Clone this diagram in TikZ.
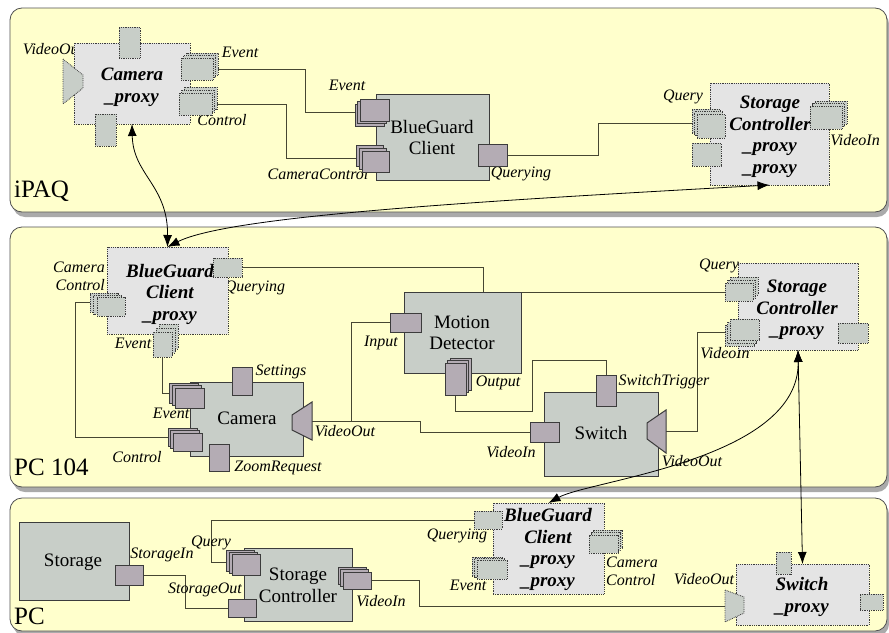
\documentclass[tikz,border=0pt]{standalone}
\usepackage{fontspec}
\setmainfont{Liberation Serif}
\usetikzlibrary{fit,arrows.meta}
\pgfdeclarelayer{lanes}
\pgfdeclarelayer{wires}
\pgfsetlayers{lanes,wires,main}
\definecolor{lanefill}{RGB}{255,255,204}
\definecolor{laneline}{RGB}{80,80,80}
\definecolor{shadowc}{RGB}{170,170,170}
\definecolor{compfill}{RGB}{200,206,200}
\definecolor{portfill}{RGB}{180,172,180}
\definecolor{proxyfill}{RGB}{228,228,228}
\definecolor{pportfill}{RGB}{200,206,200}
\definecolor{edgec}{RGB}{60,60,60}
\definecolor{wirec}{RGB}{70,70,50}
\newcommand{\compfont}{\fontsize{19}{21.5}\selectfont}
\newcommand{\proxyfont}{\fontsize{19}{21.5}\selectfont\bfseries\itshape}
\newcommand{\lblfont}{\fontsize{16}{18}\selectfont\itshape}
\newcommand{\lanefont}{\fontsize{25}{28}\selectfont}
\newcommand{\mkrect}[6][]{\node[box0,fit={(#3,#4)(#5,#6)},#1] (#2) {};}
\newcommand{\mkstack}[8][]{%
  \node[box0,fit={({#3+2*(#7)},{#4+2*(#8)})({#5+2*(#7)},{#6+2*(#8)})},#1] (#2b) {};
  \node[box0,fit={({#3+(#7)},{#4+(#8)})({#5+(#7)},{#6+(#8)})},#1] (#2a) {};
  \node[box0,fit={(#3,#4)(#5,#6)},#1] (#2) {};}
\tikzset{
  box0/.style={inner sep=0pt, outer sep=0pt, rectangle},
  comp/.style={box0, draw=edgec, fill=compfill, line width=0.9pt},
  proxy/.style={box0, draw=edgec, fill=proxyfill, densely dotted, line width=0.8pt},
  ctext/.style={inner sep=0pt, font=\compfont, align=center},
  ptext/.style={inner sep=0pt, font=\proxyfont, align=center},
  sportlook/.style={draw=edgec, fill=portfill, line width=1pt},
  pportlook/.style={draw=edgec, fill=pportfill, densely dotted, line width=0.8pt},
  sport/.style={box0, sportlook},
  pport/.style={box0, pportlook},
  lbl/.style={inner sep=0pt, font=\lblfont},
  lanelbl/.style={inner sep=0pt, font=\lanefont, anchor=west},
  wire/.style={draw=wirec, line width=0.8pt},
  xarrow/.style={draw=black, line width=0.8pt, {Latex[length=12pt,width=9pt]}-{Latex[length=12pt,width=9pt]}},
  lane/.style={draw=laneline, fill=lanefill, rounded corners=12pt, line width=0.8pt},
  laneshadow/.style={fill=shadowc, rounded corners=12pt}
}
\begin{document}
\begin{tikzpicture}[x=1pt,y=-1pt]
\useasboundingbox (0,0) rectangle (889,632);
\begin{pgfonlayer}{lanes}
  \fill[white] (0,0) rectangle (889,632);
  \fill[laneshadow] (13,12) rectangle (889,217);
  \draw[lane] (10,8) rectangle (887,212);
  \fill[laneshadow] (13,231) rectangle (889,492);
  \draw[lane] (10,227) rectangle (887,487);
  \fill[laneshadow] (13,502) rectangle (889,636);
  \draw[lane] (10,498) rectangle (887,631);
\end{pgfonlayer}

% ---------------- iPAQ ----------------
\node[lanelbl] (lIpaq) at (14,191) {iPAQ};
\node[lbl] (lCpVO) at (53,49) {VideoOut};
\node[lbl] (lCpEv) at (240,52) {Event};
\node[lbl] (lCpCt) at (222,120) {Control};
\node[proxy, fit={(74,43)(190,124)}] (cp) {};
\node[ptext] (cpT) at (132,87.5) {Camera\\\_proxy};
\mkrect[pport]{cpTop}{119}{27}{140}{58}
\mkrect[pport]{cpBot}{95}{114}{116}{146}
\draw[pportlook] (63,59) -- (83,75) -- (83,88) -- (63,104) -- cycle;
\coordinate (cpVO) at (63,81);
\mkstack[pport]{cpEv}{181}{58}{213}{80}{2.5}{-2.5}
\mkstack[pport]{cpCt}{179}{93}{212}{115}{2.5}{-3}

\node[lbl] (lBgEv) at (347,85) {Event};
\node[lbl] (lBgCC) at (318,174) {CameraControl};
\node[lbl] (lBgQ) at (521,174) {Querying};
\node[comp, fit={(376,94)(489,180)}] (bg) {};
\node[ctext] (bgT) at (432,137.5) {BlueGuard\\Client};
\mkstack[sport]{bgEv}{360}{99}{389}{121}{-2.5}{2.5}
\mkstack[sport]{bgCC}{362}{151}{389}{172}{-3}{-3}
\mkrect[sport]{bgQ}{478}{144}{507}{166}

\node[lbl] (lScppQ) at (683,97) {Query};
\node[lbl] (lScppVI) at (855,140) {VideoIn};
\node[proxy, fit={(710,83)(829,185)}] (scpp) {};
\node[ptext] (scppT) at (770,137) {Storage\\Controller\\\_proxy\\\_proxy};
\mkstack[pport]{scppQ}{697}{114}{725}{138}{-2.5}{-2.5}
\mkrect[pport]{scppL}{692}{143}{721}{166}
\mkstack[pport]{scppVI}{810}{106}{842}{129}{2.5}{-2.5}

% ---------------- PC 104 ----------------
\node[lanelbl] (lPc104) at (14,467) {PC 104};
\node[lbl, align=right, anchor=east] (lBgpCC) at (105,276) {Camera\\Control};
\node[lbl] (lBgpQ) at (255,288) {Querying};
\node[lbl] (lBgpEv) at (133,343) {Event};
\node[proxy, fit={(107,247)(228,334)}] (bgp) {};
\node[ptext] (bgpT) at (170,294) {BlueGuard\\Client\\\_proxy};
\mkrect[pport]{bgpQ}{213}{258}{242}{277}
\mkstack[pport]{bgpCC}{97}{297}{125}{316}{-3.5}{-2}
\mkstack[pport]{bgpEv}{153}{332}{172}{357}{3}{-4}

\node[lbl] (lCamSet) at (281,372) {Settings};
\node[lbl] (lCamEv) at (171,413) {Event};
\node[lbl] (lCamCt) at (137,457) {Control};
\node[lbl] (lCamZR) at (278,468) {ZoomRequest};
\node[lbl] (lCamVO) at (345,431) {VideoOut};
\node[comp, fit={(190,382)(303,456)}] (cam) {};
\node[ctext] (camT) at (247,418.5) {Camera};
\mkrect[sport]{camSet}{232}{367}{252}{395}
\mkstack[sport]{camEv}{175}{388}{204}{408}{-3}{-2.5}
\mkstack[sport]{camCt}{173}{433}{202}{451}{-2.5}{-2.5}
\mkrect[sport]{camZR}{209}{444}{229}{471}
\draw[sportlook] (292,415) -- (312,402) -- (312,440) -- (292,430) -- cycle;
\coordinate (camVO) at (312,421);

\node[lbl] (lMdIn) at (381,343) {Input};
\node[lbl] (lMdOut) at (498,383) {Output};
\node[comp, fit={(404,292)(521,373)}] (md) {};
\node[ctext] (mdT) at (462,333) {Motion\\Detector};
\mkrect[sport]{mdIn}{390}{313}{421}{332}
\mkstack[sport]{mdOut}{445}{363}{466}{395}{2.5}{-2.5}

\node[lbl] (lSwST) at (664,382) {SwitchTrigger};
\node[lbl] (lSwVI) at (511,452) {VideoIn};
\node[lbl] (lSwVO) at (692,461) {VideoOut};
\node[comp, fit={(544,392)(658,476)}] (sw) {};
\node[ctext] (swT) at (601,432.5) {Switch};
\mkrect[sport]{swST}{596}{375}{616}{406}
\mkrect[sport]{swVI}{530}{422}{559}{442}
\draw[sportlook] (647,423) -- (666,410) -- (666,453) -- (647,439) -- cycle;
\coordinate (swVO) at (666,431.5);

\node[lbl] (lScpQ) at (719,266) {Query};
\node[lbl] (lScpVI) at (725,353) {VideoIn};
\node[proxy, fit={(738,263)(858,350)}] (scp) {};
\node[ptext] (scpT) at (797,310) {Storage\\Controller\\\_proxy};
\mkstack[pport]{scpQ}{725}{283}{753}{301}{2.5}{-3}
\mkstack[pport]{scpVI}{730}{319}{759}{340}{-2.5}{3}
\mkrect[pport]{scpR}{838}{323}{868}{343}

% ---------------- PC ----------------
\node[lanelbl] (lPc) at (14,616) {PC};
\node[lbl] (lStIn) at (162,555) {StorageIn};
\node[comp, fit={(19,522)(129,600)}] (st) {};
\node[ctext] (stT) at (73,562.5) {Storage};
\mkrect[sport]{stIn}{115}{565}{143}{585}

\node[lbl] (lScQ) at (211,543) {Query};
\node[lbl] (lScSO) at (205,590) {StorageOut};
\node[lbl] (lScVI) at (381,601) {VideoIn};
\node[comp, fit={(244,548)(352,621)}] (sc) {};
\node[ctext] (scT) at (298,585.5) {Storage\\Controller};
\mkstack[sport]{scQ}{232}{554}{260}{575}{-3}{-2}
\mkrect[sport]{scSO}{228}{599}{256}{617}
\mkstack[sport]{scVI}{343}{572}{371}{589}{-2.5}{-2.5}

\node[lbl] (lBgppQ) at (457,536) {Querying};
\node[lbl, align=left, anchor=west] (lBgppCC) at (606,571) {Camera\\Control};
\node[lbl] (lBgppEv) at (468,585) {Event};
\node[proxy, fit={(493,503)(604,594)}] (bgpp) {};
\node[ptext] (bgppT) at (548,549.5) {BlueGuard\\Client\\\_proxy\\\_proxy};
\mkrect[pport]{bgppQ}{474}{511}{502}{529}
\mkstack[pport]{bgppCC}{589}{535}{618}{553}{2}{-2.5}
\mkstack[pport]{bgppEv}{477}{560}{507}{579}{-2.5}{-1.5}

\node[lbl] (lSwpVO) at (704,579) {VideoOut};
\node[proxy, fit={(736,564)(869,625)}] (swp) {};
\node[ptext] (swpT) at (802,597) {Switch\\\_proxy};
\mkrect[pport]{swpT}{776}{552}{791}{574}
\mkrect[pport]{swpR}{860}{594}{883}{610}
\draw[pportlook] (725,590) -- (744,597) -- (744,613) -- (725,622) -- cycle;
\coordinate (swpVO) at (725,606);

% ---------------- wires ----------------
\begin{pgfonlayer}{wires}
  \draw[wire] (cpEv.east) -- ++(92,0) |- (bgEva.west);
  \draw[wire] (cpCt.east) -- ++(74,0) |- (bgCCa.west);
  \draw[wire] (bgQ.east) -- ++(91,0) |- (scppQa.west);
  \draw[wire] (bgpQ.east) -- ++(241,0) |- (scpQ.west);
  \draw[wire] (bgpCCb.west) -- ++(-15,0) |- (camCtb.west);
  \draw[wire] (bgpEv.south) |- (camEvb.west);
  \draw[wire] (camVO) -- ++(108,0) |- (swVI.west);
  \draw[wire] (camVO) ++(39,0) |- (mdIn.west);
  \draw[wire] (mdOut.south) -- ++(0,16) -- ++(77,0) -- ++(0,-51) -| (swST.north);
  \draw[wire] (swVO) -- ++(31,0) |- (scpVIa.west);
  \draw[wire] (stIn.east) -- ++(42,0) |- (scSO.west);
  \draw[wire] (scQa.west) -- ++(-18,0) |- (bgppQ.west);
  \draw[wire] (scVI.east) -- ++(48,0) |- (swpVO);
\end{pgfonlayer}

% ---------------- cross-lane arrows ----------------
\draw[xarrow] (cp.south) .. controls (133,175) and (168,185) .. (bgp.north);
\draw[xarrow] (bgp.north) .. controls (230,215) and (500,200) .. (scpp.south);
\draw[xarrow] (scp.south) -- (swp.north);
\draw[xarrow] (scp.south) .. controls (800,460) and (590,480) .. (bgpp.north);
\end{tikzpicture}
\end{document}
